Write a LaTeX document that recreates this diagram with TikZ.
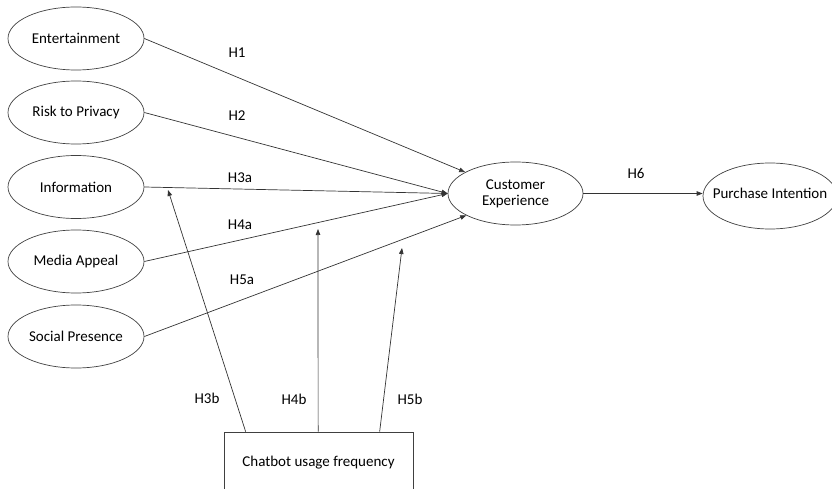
\documentclass[tikz,border=0pt]{standalone}
\usepackage{fontspec}
\setmainfont{Carlito}
\usetikzlibrary{shapes.geometric,arrows.meta}
\tikzset{
  construct/.style={draw, ellipse, inner sep=0pt, minimum width=136pt, minimum height=63pt,
    align=center, font=\fontsize{15}{17}\selectfont, line width=0.7pt, draw=black!75},
  modbox/.style={draw, rectangle, inner sep=0pt, minimum width=189pt, minimum height=66pt,
    font=\fontsize{15}{17}\selectfont, line width=0.7pt, draw=black!75},
  path/.style={-{Triangle[length=6pt,width=4.5pt]}, line width=0.7pt, draw=black!80},
  hyp/.style={font=\fontsize{15}{17}\selectfont, inner sep=0pt}
}
\begin{document}
\begin{tikzpicture}[x=1pt, y=-1pt]
\useasboundingbox (0,0) rectangle (832,489);
\clip (0,0) rectangle (832,489);

% exogenous constructs
\node[construct] (ent)  at (76,38.5) {Entertainment};
\node[construct] (risk) at (76,112.5) {Risk to Privacy};
\node[construct] (info) at (76,187) {Information};
\node[construct] (med)  at (76,261.5) {Media Appeal};
\node[construct] (soc)  at (76,336.5) {Social Presence};

% mediator and outcome (the outcome's label is wider than its ellipse allows)
\node[construct, minimum width=135pt] (ce) at (515.5,193.5) {Customer\\[-1pt]Experience};
\node[construct, minimum width=134pt, minimum height=66pt] (pi) at (770,196) {};
\node[hyp] (pitext) at ([yshift=3pt]pi.center) {Purchase Intention};

% moderator
\node[modbox] (cb) at (318.5,465) {\raisebox{7pt}{Chatbot usage frequency}};

% direct effects
\draw[path] (ent.east) -- (ce.157);
\draw[path] (risk.east) -- (ce.west);
\draw[path] (info.east) -- (ce.west);
\draw[path] (med.east) -- (ce.west);
\draw[path] (soc.east) -- (ce.204);
\draw[path] (ce.east) -- (ce.east -| pi.west);

% moderating effects
\coordinate (m3) at (168,190);
\coordinate (m4) at (318,229);
\coordinate (m5) at (402,248);
\draw[path] ([xshift=22pt]cb.north west) -- (m3);
\draw[path] ([xshift=94.5pt]cb.north west) -- (m4);
\draw[path] ([xshift=156pt]cb.north west) -- (m5);

% hypothesis labels
\node[hyp] (h1)  at (237,53)  {H1};
\node[hyp] (h2)  at (237,116) {H2};
\node[hyp] (h3a) at (240,178) {H3a};
\node[hyp] (h4a) at (240,225) {H4a};
\node[hyp] (h5a) at (242,280) {H5a};
\node[hyp] (h6)  at (636,173) {H6};
\node[hyp] (h3b) at (207,398) {H3b};
\node[hyp] (h4b) at (294,399) {H4b};
\node[hyp] (h5b) at (410,399) {H5b};
\end{tikzpicture}
\end{document}
